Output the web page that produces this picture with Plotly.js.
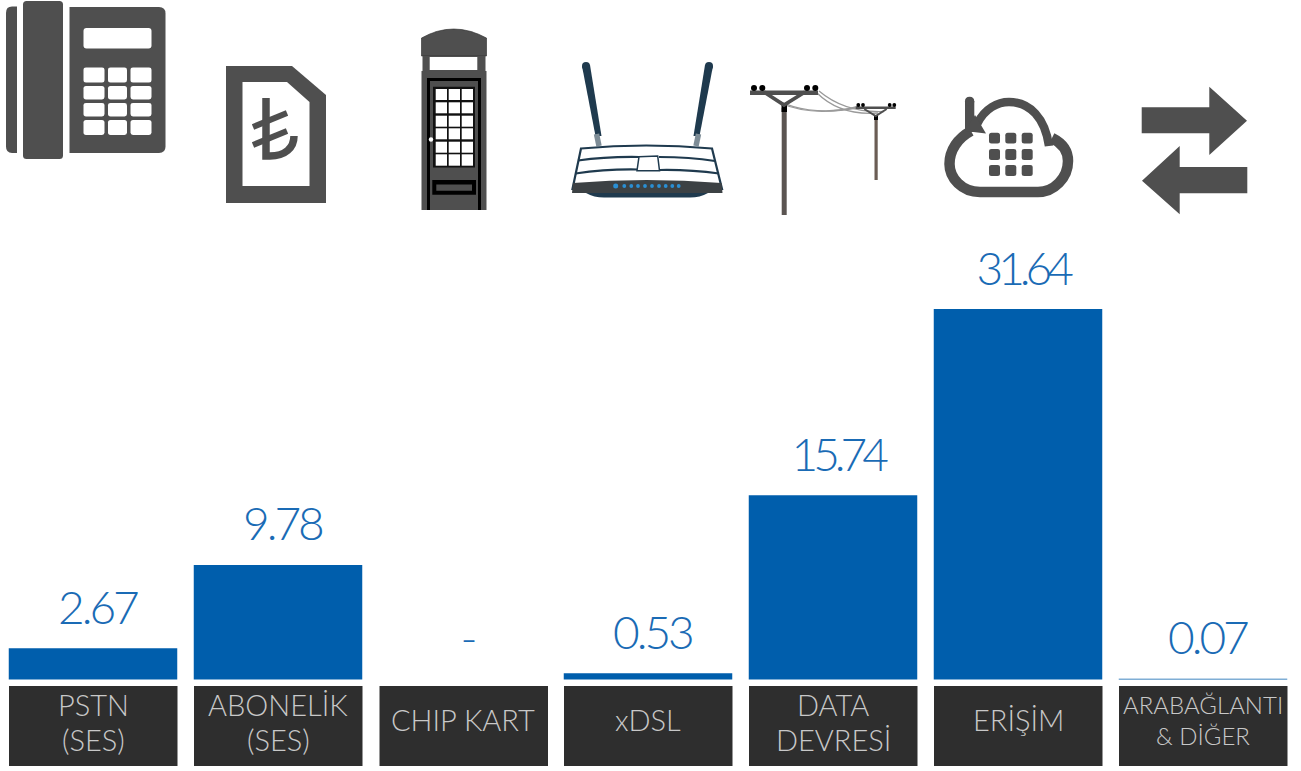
<!DOCTYPE html>
<html>
<head>
<meta charset="utf-8">
<script src="https://cdn.plot.ly/plotly-3.0.1.min.js"></script>
<style>
html,body{margin:0;padding:0;background:#fff;overflow:hidden}#c{width:1301px;height:771px}
g.annotation[data-index="0"] text,g.annotation[data-index="1"] text,g.annotation[data-index="2"] text,g.annotation[data-index="3"] text,g.annotation[data-index="6"] text{letter-spacing:-3px}
g.annotation[data-index="4"] text,g.annotation[data-index="5"] text{letter-spacing:-5px}
</style>
</head>
<body>
<div id="c"></div>
<script>
const categories = ['PSTN<br>(SES)', 'ABONELİK<br>(SES)', 'CHIP KART', 'xDSL', 'DATA<br>DEVRESİ', 'ERİŞİM', 'ARABAĞLANTI<br>& DİĞER'];
const values = [2.67, 9.78, null, 0.53, 15.74, 31.64, 0.07];
const valueLabels = ['2.67', '9.78', '-', '0.53', '15.74', '31.64', '0.07'];

const W = 1301, H = 771;
const FONT = 'Lato, "Open Sans", sans-serif';
const ICON = '#4f4f4f', NAVY = '#1f3a4e', LED = '#2a8fd4', BLUE = '#005eac';
const shapes = [];

// pixel path -> paper path
function P(d) {
  let isX = true;
  return d.replace(/([MLCQZ])|(-?[\d.]+)/g, (m, c, n) => {
    if (c) { isX = true; return c + ' '; }
    const v = isX ? (+n / W) : (1 - +n / H);
    isX = !isX;
    return v.toFixed(6) + ' ';
  });
}
function fill(d, color) {
  shapes.push({type: 'path', xref: 'paper', yref: 'paper', path: P(d), fillcolor: color, line: {width: 0}, layer: 'above'});
}
function stroke(d, color, w) {
  shapes.push({type: 'path', xref: 'paper', yref: 'paper', path: P(d), fillcolor: 'rgba(0,0,0,0)', line: {color: color, width: w}, layer: 'above'});
}
function rr(x0, y0, x1, y1, r, color) {
  fill(`M${x0 + r} ${y0} L${x1 - r} ${y0} Q${x1} ${y0} ${x1} ${y0 + r} L${x1} ${y1 - r} Q${x1} ${y1} ${x1 - r} ${y1} L${x0 + r} ${y1} Q${x0} ${y1} ${x0} ${y1 - r} L${x0} ${y0 + r} Q${x0} ${y0} ${x0 + r} ${y0} Z`, color);
}
function dot(cx, cy, r, color) { rr(cx - r, cy - r, cx + r, cy + r, r, color); }

// category boxes under the bars
const boxY0 = 686, boxY1 = 766;
[9, 194, 379.5, 564, 749, 934, 1119].forEach(x => {
  shapes.push({type: 'rect', xref: 'paper', yref: 'paper', x0: x / W, x1: (x + 168.5) / W, y0: 1 - boxY1 / H, y1: 1 - boxY0 / H, fillcolor: '#2e2e2e', line: {width: 0}, layer: 'above'});
});

// --- phone
fill('M17 6.5 L12 6.5 Q6 6.5 6 13 L6 146.5 Q6 153 12 153 L17 153 Z', ICON);
rr(23, 1, 63, 159, 3.5, ICON);
fill('M69.5 7 L159 7 Q165.5 7 165.5 13.5 L165.5 146.5 Q165.5 153 159 153 L69.5 153 Z', ICON);
rr(83.5, 28, 151.5, 48.5, 3, '#fff');
[[83.5, 104.5], [108, 127], [130.5, 151.5]].forEach(c => {
  [[67.5, 82.5], [86, 99.5], [103, 116.5], [120, 135]].forEach(r => rr(c[0], r[0], c[1], r[1], 2.5, '#fff'));
});

// --- SIM with lira sign
fill('M226 66 L292 66 L326 95 L326 203 L226 203 Z', ICON);
fill('M242.5 82 L287 82 L309.5 102 L309.5 186 L242.5 186 Z', '#fff');
stroke('M266 98 L266 156 L270 156 C285 156 294 148 294 136', ICON, 7.5);
stroke('M253 127 L287 113', ICON, 6);
stroke('M253 145 L287 131', ICON, 6);

// --- phone booth
fill('M421.5 56 L421.5 38 Q453.5 20 486.5 38 L486.5 56 Z', ICON);
stroke('M421.5 56 L421.5 38 Q453.5 20 486.5 38 L486.5 56 Z', '#2a2a2a', 0.6);
fill('M422.5 56 L485.5 56 L485.5 71 L422.5 71 Z', ICON);
fill('M429.7 57 L477.3 57 L477.3 70 L429.7 70 Z', '#fff');
fill('M421.5 71 L486.5 71 L486.5 210 L421.5 210 Z', ICON);
stroke('M428.5 210 L428.5 79.5 L479.5 79.5 L479.5 210', '#000', 3);
fill('M433 86.7 L475 86.7 L475 167.5 L433 167.5 Z', '#111');
[[435.7, 447], [448.7, 460], [461.7, 473]].forEach(c => {
  [[89, 100], [102.3, 113.3], [115.7, 126.7], [128.3, 139.3], [141.7, 152.7], [154.3, 165.7]].forEach(r =>
    fill(`M${c[0]} ${r[0]} L${c[1]} ${r[0]} L${c[1]} ${r[1]} L${c[0]} ${r[1]} Z`, '#fff'));
});
fill('M432.3 180 L476 180 L476 194.7 L432.3 194.7 Z', '#000');
fill('M436.3 184.5 L472 184.5 L472 190.7 L436.3 190.7 Z', ICON);
dot(431, 139.5, 2.2, '#fff');

// --- router
fill('M582 66 L590 65 L601.5 136 L595.5 136 Z', NAVY);
fill('M705 65 L713 66 L699.5 136 L693.5 136 Z', NAVY);
dot(586, 66, 4, NAVY);
dot(709, 66, 4, NAVY);
stroke('M596.5 134 L599 146', '#7d8c96', 5.5);
stroke('M698.5 134 L696 146', '#7d8c96', 5.5);
fill('M581 148 Q646 142 712 148 L722 190 L572 190 Z', '#fff');
stroke('M581 148.5 Q646 142.5 712 148.5 L722 189 L572.5 189 Z', NAVY, 2.2);
stroke('M578 160.5 Q606 156.5 639 157', NAVY, 2.2);
stroke('M659 157 Q690 157 715 161', NAVY, 2.2);
stroke('M575.5 173.5 Q606 169 637 169.5', NAVY, 2.2);
stroke('M660 170 Q690 169.5 719 173.5', NAVY, 2.2);
fill('M639 156.7 L657.7 156 L659.5 170.7 L637 170.7 Z', '#fff');
stroke('M639 156.7 L657.7 156 L659.5 170.7 L637 170.7 Z', NAVY, 1.5);
fill('M573 183 Q646 177 721.5 183 L722.5 193 L572 193 Z', '#3c4144');
fill('M586 193 L708 193 Q700 197.5 690 197.5 L604 197.5 Q594 197.5 586 193 Z', NAVY);
[615.7, 624.3, 631.3, 638, 645, 652, 659, 665.7, 672.3, 678.7].forEach((x, i) => dot(x, 186, i === 0 ? 2.5 : 1.9, LED));

// --- utility poles
stroke('M819 91 Q845 113 884 111.5', '#9a9a9a', 1.3);
stroke('M816.5 92.5 Q840 116 878 113', '#9a9a9a', 1.3);
stroke('M780 103 Q815 118 860 106', '#9a9a9a', 1.3);
stroke('M765 93 Q800 118 856.7 108', '#9a9a9a', 1.3);
fill('M781.7 108 L786.7 108 L786.7 215 L781.7 215 Z', '#5b5552');
fill('M781.5 105 L787 105 L787 112 L781.5 112 Z', '#000');
fill('M750 90.5 L818 90.5 L818 95 L750 95 Z', ICON);
stroke('M764 92 L784 105 L805 92', ICON, 3.8);
[754, 762.3, 807, 815.3].forEach(x => dot(x, 88, 3, '#000'));
fill('M874.5 118 L877.7 118 L877.7 180 L874.5 180 Z', '#6b5d55');
fill('M874 115 L878 115 L878 120 L874 120 Z', '#000');
fill('M855.7 106.5 L895.7 106.5 L895.7 109 L855.7 109 Z', ICON);
stroke('M864.3 109 L875.7 116 L886.7 109', ICON, 2);
[858.3, 863, 889.7, 894.3].forEach(x => dot(x, 105, 1.9, '#000'));

// --- cloud
stroke('M1052 138 C1062 143 1068 151 1068 161 C1068 178 1054 192 1038 192 L980 192 C962 192 949.5 178 949.5 164 C949.5 150 958 138 971 131', ICON, 10.5);
stroke('M977 124 C985 108 998 102 1009 102 C1030 102 1045 118 1049 146', ICON, 8.5);
fill('M965 101 L974.3 101 L974.3 132 L965 132 Z', ICON);
dot(969.6, 101.5, 4.65, ICON);
fill('M965 131 L986 133.5 L975 115 Z', ICON);
[[989, 1000], [1005.3, 1016.3], [1021.7, 1032.7]].forEach(c => {
  [[132.7, 143.5], [149, 160], [165, 176]].forEach(r => rr(c[0], r[0], c[1], r[1], 2.5, ICON));
});

// --- exchange arrows
fill('M1141.7 107.3 L1209.3 107.3 L1209.3 86.7 L1247 120.7 L1209.3 155 L1209.3 133.3 L1141.7 133.3 Z', ICON);
fill('M1247.3 167 L1179.7 167 L1179.7 146 L1142 180.7 L1179.7 214.3 L1179.7 193.3 L1247.3 193.3 Z', ICON);

// --- annotations
const annotations = [];
valueLabels.forEach((t, i) => {
  annotations.push({x: i, y: values[i] === null ? 0 : values[i], xref: 'x', yref: 'y', text: t, showarrow: false, xanchor: 'center', yanchor: 'middle', xshift: 4, yshift: 42,
    font: {family: FONT, size: 46, weight: 300, color: '#1a6bb5'}});
});
categories.forEach((c, i) => {
  const lines = c.split('<br>');
  const small = i === 6;
  const ys = lines.length === 1 ? [719] : (small ? [704, 735] : [704, 739]);
  lines.forEach((t, k) => {
    annotations.push({x: i, y: 1 - ys[k] / H, xref: 'x', yref: 'paper', text: t, showarrow: false, xanchor: 'center', yanchor: 'middle', xshift: 0,
      font: {family: FONT, size: small ? 24 : 29, weight: 300, color: '#c8c8c8'}});
  });
});

const pitch = 185, center0 = 93, pxPerUnit = 11.71, baseY = 679.5;
Plotly.newPlot('c', [{
  type: 'bar',
  x: categories.map((c, i) => i),
  y: values,
  width: 168.5 / pitch,
  marker: {color: BLUE, line: {width: 0}},
  hoverinfo: 'skip'
}], {
  width: W, height: H,
  margin: {l: 0, r: 0, t: 0, b: 0, pad: 0},
  paper_bgcolor: '#fff', plot_bgcolor: '#fff',
  showlegend: false,
  xaxis: {range: [-center0 / pitch, (W - center0) / pitch], visible: false, fixedrange: true},
  yaxis: {range: [-(H - baseY) / pxPerUnit, baseY / pxPerUnit], visible: false, fixedrange: true},
  shapes, annotations
}, {displayModeBar: false, staticPlot: true});
</script>
</body>
</html>
